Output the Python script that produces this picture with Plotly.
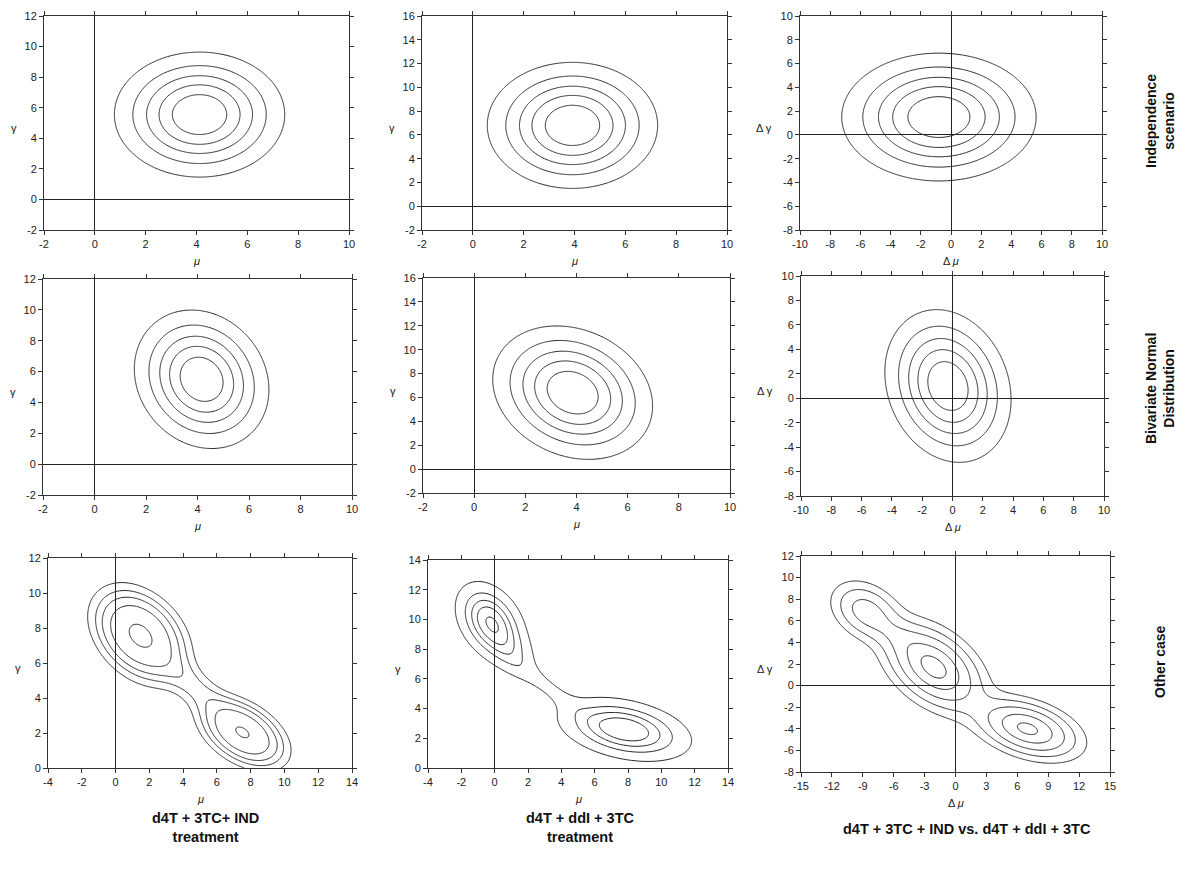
import numpy as np
import plotly.graph_objects as go

PAGE_W, PAGE_H = 1196, 882
OFF = 8                       # default body margin of the html page
W, H = PAGE_W - 2 * OFF, PAGE_H - 2 * OFF

# ---- Data: mixture components [peak, mean_x, mean_y, sd_x, sd_y, rho] ----
indep_t1 = [[1.0, 4.12, 5.55, 1.77, 2.16, 0.0]]
indep_t2 = [[1.0, 3.92, 6.80, 1.77, 2.80, 0.0]]
indep_diff = [[1.0, -0.80, 1.50, 3.40, 2.84, 0.0]]

binorm_t1 = [[1.0, 4.16, 5.50, 1.38, 2.37, -0.15]]
binorm_t2 = [[1.0, 3.85, 6.40, 1.65, 2.95, -0.20]]
binorm_diff = [[1.0, -0.30, 1.00, 2.20, 3.30, -0.18]]

other_t1 = [[1.00, 1.45, 7.60, 1.45, 1.40, -0.35],
            [0.93, 7.55, 2.00, 1.35, 1.05, -0.45],
            [0.20, 4.60, 4.70, 1.50, 1.30, -0.80]]
other_t2 = [[1.00, -0.25, 9.85, 1.00, 1.28, -0.35],
            [0.30, 0.90, 8.00, 0.90, 1.10, -0.50],
            [1.00, 7.80, 2.60, 1.90, 1.02, -0.35],
            [0.14, 3.00, 5.60, 1.80, 1.55, -0.93]]
other_diff = [[0.50, -8.70, 6.90, 1.90, 1.55, -0.30],
              [0.13, -5.80, 4.70, 1.50, 1.10, -0.50],
              [1.00, -2.10, 1.70, 2.60, 2.20, -0.45],
              [0.96, 7.00, -4.00, 2.70, 1.50, -0.40]]

# contour levels as fractions of each panel's maximum
even_levels = [1/6, 2/6, 3/6, 4/6, 5/6]
other_t1_levels = [0.10, 0.19, 0.30, 0.48, 0.90]
other_t2_levels = [0.10, 0.30, 0.50, 0.70, 0.94]
other_diff_levels = [0.10, 0.22, 0.40, 0.65, 0.90]

# axis ticks (tick labels as printed)
ticks_mu_a = [-2, 0, 2, 4, 6, 8, 10]
ticks_gamma_a = [-2, 0, 2, 4, 6, 8, 10, 12]
ticks_gamma_b = [-2, 0, 2, 4, 6, 8, 10, 12, 14, 16]
ticks_dmu_a = [-10, -8, -6, -4, -2, 0, 2, 4, 6, 8, 10]
ticks_dgamma_a = [-8, -6, -4, -2, 0, 2, 4, 6, 8, 10]
ticks_mu_c = [-4, -2, 0, 2, 4, 6, 8, 10, 12, 14]
ticks_gamma_c = [0, 2, 4, 6, 8, 10, 12]
ticks_gamma_d = [0, 2, 4, 6, 8, 10, 12, 14]
ticks_dmu_c = [-15, -12, -9, -6, -3, 0, 3, 6, 9, 12, 15]
ticks_dgamma_c = [-8, -6, -4, -2, 0, 2, 4, 6, 8, 10, 12]

row_labels = ["Independence<br>scenario", "Bivariate Normal<br>Distribution", "Other case"]
col_labels = ["d4T + 3TC+ IND<br>treatment", "d4T + ddI + 3TC<br>treatment",
              "d4T + 3TC + IND vs. d4T + ddI + 3TC"]

# ---- panel layout (page pixel boxes: x0, x1, y0, y1) ----
panels = [
    dict(comp=indep_t1, lev=even_levels, xt_=ticks_mu_a, yt_=ticks_gamma_a, box=(44, 349, 16, 230), xt="μ", yt="γ"),
    dict(comp=indep_t2, lev=even_levels, xt_=ticks_mu_a, yt_=ticks_gamma_b, box=(422, 727, 16, 230), xt="μ", yt="γ"),
    dict(comp=indep_diff, lev=even_levels, xt_=ticks_dmu_a, yt_=ticks_dgamma_a, box=(800, 1102, 16, 230), xt="Δ μ", yt="Δ γ"),
    dict(comp=binorm_t1, lev=even_levels, xt_=ticks_mu_a, yt_=ticks_gamma_a, box=(43, 352, 279, 495), xt="μ", yt="γ"),
    dict(comp=binorm_t2, lev=even_levels, xt_=ticks_mu_a, yt_=ticks_gamma_b, box=(423, 730, 278, 493), xt="μ", yt="γ"),
    dict(comp=binorm_diff, lev=even_levels, xt_=ticks_dmu_a, yt_=ticks_dgamma_a, box=(801, 1104, 276, 496), xt="Δ μ", yt="Δ γ"),
    dict(comp=other_t1, lev=other_t1_levels, xt_=ticks_mu_c, yt_=ticks_gamma_c, box=(48, 352, 558, 768), xt="μ", yt="γ"),
    dict(comp=other_t2, lev=other_t2_levels, xt_=ticks_mu_c, yt_=ticks_gamma_d, box=(428, 728, 560, 768), xt="μ", yt="γ"),
    dict(comp=other_diff, lev=other_diff_levels, xt_=ticks_dmu_c, yt_=ticks_dgamma_c, box=(801, 1110, 556, 772), xt="Δ μ", yt="Δ γ"),
]


def px_x(px):
    return (px - OFF) / W


def px_y(py):
    return 1 - (py - OFF) / H


def density(comps, X, Y):
    Z = np.zeros_like(X)
    for h, mx, my, sx, sy, r in comps:
        u = (X - mx) / sx
        v = (Y - my) / sy
        m2 = (u * u + v * v - 2 * r * u * v) / (1 - r * r)
        Z += h * np.exp(-0.5 * m2)
    return Z


fig = go.Figure()
LINE = "#2a2a2a"
FONT = "Arial, Liberation Sans, sans-serif"
annotations = []

for i, p in enumerate(panels, start=1):
    xr = [p["xt_"][0], p["xt_"][-1]]
    yr = [p["yt_"][0], p["yt_"][-1]]
    xs = np.linspace(xr[0], xr[1], 301)
    ys = np.linspace(yr[0], yr[1], 301)
    X, Y = np.meshgrid(xs, ys)
    Z = density(p["comp"], X, Y)
    zmax = Z.max()
    xa = "x" if i == 1 else f"x{i}"
    ya = "y" if i == 1 else f"y{i}"
    for f in p["lev"]:
        L = f * zmax
        fig.add_trace(go.Contour(
            x=xs, y=ys, z=Z, xaxis=xa, yaxis=ya,
            contours=dict(start=L, end=L, size=1, coloring="lines"),
            colorscale=[[0, LINE], [1, LINE]], line=dict(width=1),
            showscale=False, hoverinfo="skip"))
    x0, x1, y0, y1 = p["box"]
    axcommon = dict(showgrid=False, showline=True, linecolor="#333", linewidth=1,
                    mirror="ticks", ticks="outside", ticklen=4, tickcolor="#333",
                    tickfont=dict(family=FONT, size=11, color="#222"),
                    zeroline=True, zerolinecolor="#222", zerolinewidth=1,
                    automargin=False, tickmode="array", ticklabeloverflow="allow")
    xkey = "xaxis" if i == 1 else f"xaxis{i}"
    ykey = "yaxis" if i == 1 else f"yaxis{i}"
    fig.update_layout(**{
        xkey: dict(axcommon, domain=[px_x(x0), px_x(x1)], range=xr,
                   tickvals=p["xt_"], ticktext=[str(t) for t in p["xt_"]], anchor=ya),
        ykey: dict(axcommon, domain=[px_y(y1), px_y(y0)], range=yr,
                   tickvals=p["yt_"], ticktext=[str(t) for t in p["yt_"]], anchor=xa),
    })
    # axis titles
    annotations.append(dict(x=px_x((x0 + x1) / 2), y=px_y(y1 + 31), xref="paper", yref="paper",
                            text=p["xt"].replace("μ", "<i>μ</i>"),
                            showarrow=False, font=dict(family=FONT, size=11, color="#222"),
                            xanchor="center", yanchor="middle"))
    annotations.append(dict(x=px_x(x0 - (36 if "Δ" in p["yt"] else 30)), y=px_y((y0 + y1) / 2 + 5),
                            xref="paper", yref="paper", text=p["yt"], showarrow=False,
                            font=dict(family=FONT, size=11, color="#222"),
                            xanchor="center", yanchor="middle"))

# row labels (right side, rotated)
for txt, py in zip(row_labels, [121, 389, 662]):
    annotations.append(dict(x=px_x(1160), y=px_y(py), xref="paper", yref="paper", text=f"<b>{txt}</b>",
                            textangle=-90, showarrow=False,
                            font=dict(family=FONT, size=14, color="#111"),
                            xanchor="center", yanchor="middle"))
# column labels (bottom)
for txt, px, py in zip(col_labels, [205, 580, 967], [827, 827, 829]):
    annotations.append(dict(x=px_x(px), y=px_y(py), xref="paper", yref="paper", text=f"<b>{txt}</b>",
                            showarrow=False, font=dict(family=FONT, size=14.5, color="#111"),
                            xanchor="center", yanchor="middle"))

fig.update_layout(width=W, height=H, margin=dict(l=0, r=0, t=0, b=0, autoexpand=False),
                  paper_bgcolor="white", plot_bgcolor="white", showlegend=False,
                  annotations=annotations)

fig.write_html("out.html")
